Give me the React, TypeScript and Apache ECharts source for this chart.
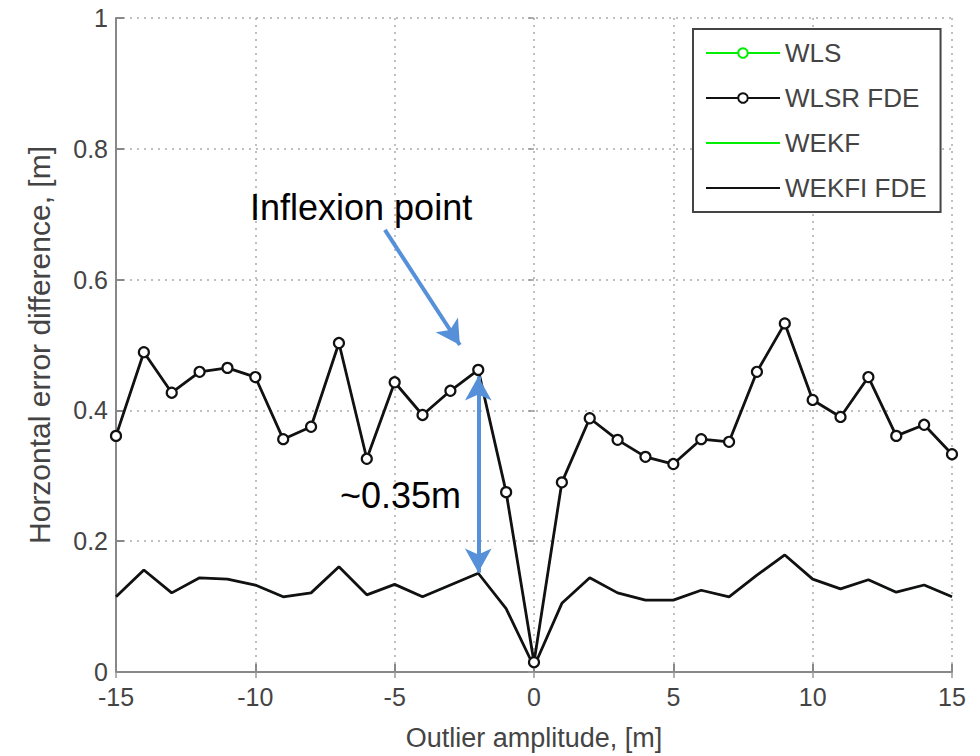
import React, { useEffect, useRef } from "react";
import * as echarts from "echarts";

const amplitudes = [-15,-14,-13,-12,-11,-10,-9,-8,-7,-6,-5,-4,-3,-2,-1,0,1,2,3,4,5,6,7,8,9,10,11,12,13,14,15];
const wlsrFde = [0.361,0.489,0.427,0.459,0.465,0.451,0.356,0.375,0.503,0.326,0.443,0.393,0.430,0.462,0.275,0.015,0.290,0.388,0.355,0.329,0.318,0.356,0.352,0.459,0.533,0.416,0.390,0.451,0.361,0.378,0.333];
const wekfiFde = [0.115,0.156,0.121,0.144,0.142,0.133,0.115,0.121,0.161,0.118,0.134,0.115,0.133,0.151,0.097,0.008,0.105,0.144,0.121,0.110,0.110,0.125,0.115,0.148,0.179,0.142,0.127,0.141,0.122,0.133,0.115];
// WLS and WEKF curves coincide with their FDE counterparts and are hidden beneath them
const wls = wlsrFde;
const wekf = wekfiFde;
const seriesNames = ["WLS", "WLSR FDE", "WEKF", "WEKFI FDE"];
const xTitle = "Outlier amplitude, [m]";
const yTitle = "Horzontal error difference, [m]";
const inflexionArrow = [[-5.35, 0.676], [-2.66, 0.5]];
const gapArrow = [[-2, 0.152], [-2, 0.452]];

const pts = (vals: number[]) => amplitudes.map((x, i) => [x, vals[i]]);

export default function App() {
  const ref = useRef<HTMLDivElement>(null);
  useEffect(() => {
    const chart = echarts.init(ref.current!, null, { renderer: "svg" });
    const font = "Liberation Sans, Arial, sans-serif";
    const gray = "#444";
    const blue = "#5590d8";
    const grid = { type: [2, 5] as any, color: "#aaa", width: 1.5 };
    chart.setOption({
      animation: false,
      backgroundColor: "#fff",
      grid: { left: 116, right: 28, top: 18, bottom: 84 },
      xAxis: [
        {
          type: "value", min: -15, max: 15, interval: 5,
          axisLine: { show: true, onZero: false, lineStyle: { color: "#888", width: 2 } },
          axisTick: { show: true, inside: true, length: 8, lineStyle: { color: "#888", width: 2 } },
          axisLabel: { color: gray, fontSize: 25, fontFamily: font, margin: 12 },
          splitLine: { show: true, lineStyle: grid },
          name: xTitle, nameLocation: "middle", nameGap: 52,
          nameTextStyle: { color: gray, fontSize: 27, fontFamily: font },
        },
        {
          type: "value", min: -15, max: 15, interval: 5, position: "top",
          axisLine: { show: false },
          axisTick: { show: true, inside: true, length: 6, lineStyle: { color: "#999", width: 1.5 } },
          axisLabel: { show: false }, splitLine: { show: false },
        },
      ],
      yAxis: [
        {
          type: "value", min: 0, max: 1, interval: 0.2,
          axisLine: { show: true, onZero: false, lineStyle: { color: "#888", width: 2 } },
          axisTick: { show: true, inside: true, length: 8, lineStyle: { color: "#888", width: 2 } },
          axisLabel: { color: gray, fontSize: 25, fontFamily: font, margin: 8 },
          splitLine: { show: true, lineStyle: grid },
          name: yTitle, nameLocation: "middle", nameGap: 62, nameRotate: 90,
          nameTextStyle: { color: gray, fontSize: 30, fontFamily: font },
        },
        {
          type: "value", min: 0, max: 1, interval: 0.2, position: "right",
          axisLine: { show: false },
          axisTick: { show: true, inside: true, length: 6, lineStyle: { color: "#999", width: 1.5 } },
          axisLabel: { show: false }, splitLine: { show: false },
        },
      ],
      legend: {
        orient: "vertical",
        left: 693, top: 29,
        padding: [11, 14, 11, 12],
        itemWidth: 74, itemHeight: 12, itemGap: 19,
        backgroundColor: "#fff",
        borderColor: "#444", borderWidth: 2, borderRadius: 0,
        textStyle: { color: gray, fontSize: 26, fontFamily: font, padding: [0, 10, 0, 0], width: 136 },
        data: [
          { name: seriesNames[0] },
          { name: seriesNames[1] },
          { name: seriesNames[2], itemStyle: { opacity: 0 } },
          { name: seriesNames[3], itemStyle: { opacity: 0 } },
        ],
        selectedMode: false,
      },
      series: [
        {
          name: seriesNames[0], type: "line", data: pts(wls),
          symbol: "circle", symbolSize: 7, showSymbol: true,
          itemStyle: { color: "#fff", borderColor: "#00ee00", borderWidth: 2 },
          lineStyle: { color: "#00ee00", width: 1.5 }, z: 1,
        },
        {
          name: seriesNames[2], type: "line", data: pts(wekf),
          symbol: "none", showSymbol: false,
          itemStyle: { color: "#00ee00" },
          lineStyle: { color: "#00ee00", width: 1.5 }, z: 1,
        },
        {
          name: seriesNames[1], type: "line", data: pts(wlsrFde),
          symbol: "circle", symbolSize: 10, showSymbol: true,
          itemStyle: { color: "#fff", borderColor: "#111", borderWidth: 2.2 },
          lineStyle: { color: "#111", width: 2.8 }, z: 3,
          markLine: {
            silent: true, animation: false,
            symbol: ["none", "arrow"], symbolSize: [20, 24],
            label: { show: false },
            lineStyle: { color: blue, width: 4, type: "solid" },
            data: [[{ coord: inflexionArrow[0] }, { coord: inflexionArrow[1] }]],
          },
        },
        {
          name: seriesNames[3], type: "line", data: pts(wekfiFde),
          symbol: "none", showSymbol: false,
          itemStyle: { color: "#111" },
          lineStyle: { color: "#111", width: 2.8 }, z: 3,
          markLine: {
            silent: true, animation: false,
            symbol: ["arrow", "arrow"], symbolSize: [20, 24],
            label: { show: false },
            lineStyle: { color: blue, width: 4, type: "solid" },
            data: [[{ coord: gapArrow[0] }, { coord: gapArrow[1] }]],
          },
        },
      ],
      graphic: [
        {
          type: "text", left: 250, top: 189, z: 10,
          style: { text: "Inflexion point", fill: "#000", fontSize: 36, fontFamily: font },
        },
        {
          type: "text", left: 340, top: 477, z: 10,
          style: { text: "~0.35m", fill: "#000", fontSize: 36, fontFamily: font },
        },
      ],
    });
    return () => chart.dispose();
  }, []);
  return (
    <div ref={ref} style={{ position: "absolute", left: 0, top: 0, width: 980, height: 756 }} />
  );
}
